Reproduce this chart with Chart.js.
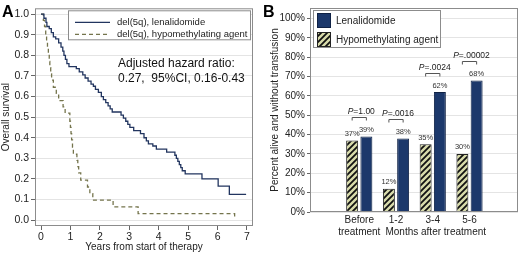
<!DOCTYPE html>
<html>
<head>
<meta charset="utf-8">
<script src="https://cdn.jsdelivr.net/npm/chart.js@4"></script>
<style>
  body { margin: 0; background: #fff; }
  canvas { position: absolute; top: 0; }
  #chartA { left: 0; }
  #chartB { left: 258px; }
</style>
</head>
<body>
<canvas id="chartA" width="258" height="253"></canvas>
<canvas id="chartB" width="262" height="253"></canvas>
<script>
// ---- panel A: Kaplan-Meier curves ----
const yearTicks = [0, 1, 2, 3, 4, 5, 6, 7];
const survTicks = ['0.0', '0.1', '0.2', '0.3', '0.4', '0.5', '0.6', '0.7', '0.8', '0.9', '1.0'];

const lenaTime = [0, 0.1, 0.17, 0.2, 0.28, 0.35, 0.42, 0.5, 0.6, 0.68, 0.74, 0.78, 0.83, 0.88, 0.95,
  1.2, 1.3, 1.42, 1.5, 1.6, 1.7, 1.78, 1.85, 1.95, 2.05, 2.12, 2.2, 2.28, 2.35, 2.42, 2.72, 2.8, 2.88,
  2.95, 3.02, 3.15, 3.38, 3.5, 3.58, 3.65, 3.8, 3.92, 4.27, 4.55, 4.6, 4.65, 4.7, 4.75, 4.8, 4.9,
  5.47, 6.02, 6.4, 6.97];
const lenaSurv = [1.0, 0.98, 0.96, 0.94, 0.93, 0.91, 0.89, 0.88, 0.86, 0.84, 0.82, 0.80, 0.78, 0.76, 0.745,
  0.735, 0.72, 0.705, 0.69, 0.675, 0.66, 0.65, 0.635, 0.62, 0.60, 0.585, 0.57, 0.555, 0.54, 0.525, 0.51, 0.495, 0.48,
  0.465, 0.45, 0.435, 0.42, 0.40, 0.385, 0.37, 0.36, 0.345, 0.33, 0.315, 0.30, 0.285, 0.27, 0.255, 0.24, 0.225,
  0.20, 0.165, 0.125, 0.125];

const hmaTime = [0, 0.08, 0.12, 0.16, 0.19, 0.22, 0.25, 0.28, 0.3, 0.33, 0.36, 0.42, 0.52, 0.6, 0.75,
  0.82, 0.98, 1.0, 1.02, 1.04, 1.07, 1.1, 1.22, 1.25, 1.28, 1.35, 1.58, 1.66, 1.76, 2.45, 3.3, 6.58, 6.58];
const hmaSurv = [1.0, 0.97, 0.94, 0.90, 0.87, 0.84, 0.81, 0.77, 0.74, 0.71, 0.68, 0.645, 0.615, 0.58, 0.55,
  0.52, 0.48, 0.45, 0.42, 0.39, 0.355, 0.32, 0.29, 0.26, 0.23, 0.194, 0.161, 0.129, 0.097, 0.065, 0.032, 0.032, 0.015];

const hazardText = ['Adjusted hazard ratio:', '0.27,  95%CI, 0.16-0.43'];

// ---- panel B: transfusion independence ----
const months = [['Before', 'treatment'], '1-2', '3-4', '5-6'];
const hmaPct = [37, 12, 35, 30];
const lenaPct = [39, 38, 62, 68];
const pValues = ['=1.00', '=.0016', '=.0024', '=.00002'];
const pctTicks = ['0%', '10%', '20%', '30%', '40%', '50%', '60%', '70%', '80%', '90%', '100%'];

const FONT = '"Liberation Sans", Arial, sans-serif';
Chart.defaults.font.family = FONT;
Chart.defaults.color = '#222';

function hatch() {
  const c = document.createElement('canvas');
  c.width = 6; c.height = 6;
  const g = c.getContext('2d');
  g.fillStyle = '#d8dbab';
  g.fillRect(0, 0, 6, 6);
  g.strokeStyle = '#111';
  g.lineWidth = 1.8;
  g.beginPath();
  g.moveTo(-1, 7); g.lineTo(7, -1);
  g.moveTo(-4, 4); g.lineTo(4, -4);
  g.moveTo(2, 10); g.lineTo(10, 2);
  g.stroke();
  return g.createPattern(c, 'repeat');
}
const hatchFill = hatch();

function frame(ctx, a) {
  ctx.strokeStyle = '#8c8c8c';
  ctx.lineWidth = 1;
  ctx.strokeRect(a.left + 0.5, a.top + 0.5, a.right - a.left - 1, a.bottom - a.top - 1);
}

const panelA = {
  id: 'panelA',
  afterDraw(chart) {
    const { ctx, chartArea: a } = chart;
    ctx.save();
    frame(ctx, a);
    ctx.fillStyle = '#000';
    ctx.textBaseline = 'alphabetic';
    ctx.font = 'bold 16px ' + FONT;
    ctx.fillText('A', 2, 17);

    const bx = a.left + 33, by = a.top + 2, bw = 182, bh = 29;
    ctx.fillStyle = '#fff';
    ctx.fillRect(bx, by, bw, bh);
    ctx.strokeStyle = '#8c8c8c';
    ctx.strokeRect(bx + 0.5, by + 0.5, bw, bh);
    chart.data.datasets.forEach((ds, i) => {
      const y = by + 12 + i * 12;
      ctx.beginPath();
      ctx.setLineDash(ds.borderDash || []);
      ctx.strokeStyle = ds.borderColor;
      ctx.lineWidth = ds.borderWidth;
      ctx.moveTo(bx + 7, y);
      ctx.lineTo(bx + 42, y);
      ctx.stroke();
      ctx.setLineDash([]);
      ctx.fillStyle = '#222';
      ctx.font = '9.5px ' + FONT;
      ctx.textBaseline = 'middle';
      ctx.fillText(ds.label, bx + 49, y);
    });

    ctx.font = '12px ' + FONT;
    ctx.fillStyle = '#111';
    ctx.fillText(hazardText[0], a.left + 83, 64);
    ctx.fillText(hazardText[1], a.left + 83, 79);
    ctx.restore();
  }
};

new Chart(document.getElementById('chartA'), {
  type: 'line',
  data: {
    datasets: [
      {
        label: 'del(5q), lenalidomide',
        data: lenaTime.map((t, i) => ({ x: t, y: lenaSurv[i] })),
        borderColor: '#22355f',
        borderWidth: 1.3,
        stepped: true,
        pointRadius: 0,
        fill: false
      },
      {
        label: 'del(5q), hypomethylating agent',
        data: hmaTime.map((t, i) => ({ x: t, y: hmaSurv[i] })),
        borderColor: '#74744c',
        borderDash: [4, 3],
        borderWidth: 1.3,
        stepped: true,
        pointRadius: 0,
        fill: false
      }
    ]
  },
  options: {
    responsive: false,
    animation: false,
    layout: { padding: { top: 1, right: 5, left: 0, bottom: 0 } },
    plugins: { legend: { display: false }, tooltip: { enabled: false } },
    scales: {
      x: {
        type: 'linear',
        min: -0.204,
        max: 7.204,
        afterBuildTicks: s => { s.ticks = yearTicks.map(v => ({ value: v })); },
        afterFit: s => { s.height = 27; },
        ticks: { font: { size: 10.5 }, color: '#222', padding: 1, maxRotation: 0, autoSkip: false },
        grid: { drawOnChartArea: false, tickLength: 4, tickColor: '#666' },
        border: { display: false },
        title: { display: true, text: 'Years from start of therapy', font: { size: 10 }, padding: 0, color: '#222' }
      },
      y: {
        min: -0.0282,
        max: 1.0282,
        afterBuildTicks: s => { s.ticks = survTicks.map(v => ({ value: parseFloat(v) })); },
        afterFit: s => { s.width = 35; },
        ticks: { font: { size: 10.5 }, color: '#222', padding: 2, callback: (v, i) => survTicks[i] },
        grid: { color: '#e4e4e4', tickLength: 4, tickColor: '#666' },
        border: { display: false },
        title: { display: true, text: 'Overall survival', font: { size: 10 }, padding: 0, color: '#222' }
      }
    }
  },
  plugins: [panelA]
});

const panelB = {
  id: 'panelB',
  afterDatasetsDraw(chart) {
    const { ctx, scales } = chart;
    const m0 = chart.getDatasetMeta(0), m1 = chart.getDatasetMeta(1);
    ctx.save();
    ctx.textAlign = 'center';
    ctx.textBaseline = 'alphabetic';
    ctx.fillStyle = '#333';
    ctx.font = '7.5px ' + FONT;
    [hmaPct, lenaPct].forEach((vals, d) => {
      const meta = chart.getDatasetMeta(d);
      meta.data.forEach((bar, i) => ctx.fillText(vals[i] + '%', bar.x, bar.y - 4.5));
    });

    pValues.forEach((p, i) => {
      const x1 = m0.data[i].x, x2 = m1.data[i].x;
      const level = Math.max(hmaPct[i], lenaPct[i]) + 10;
      const yy = Math.round(scales.y.getPixelForValue(level)) + 0.5;
      ctx.strokeStyle = '#555';
      ctx.lineWidth = 1;
      ctx.beginPath();
      ctx.moveTo(x1, yy + 3); ctx.lineTo(x1, yy); ctx.lineTo(x2, yy); ctx.lineTo(x2, yy + 3);
      ctx.stroke();
      ctx.font = 'italic 8.5px ' + FONT;
      const wP = ctx.measureText('P').width;
      ctx.font = '8.5px ' + FONT;
      const wR = ctx.measureText(p).width;
      const sx = (x1 + x2) / 2 + 2 - (wP + wR) / 2;
      ctx.textAlign = 'left';
      ctx.fillStyle = '#222';
      ctx.font = 'italic 8.5px ' + FONT;
      ctx.fillText('P', sx, yy - 4);
      ctx.font = '8.5px ' + FONT;
      ctx.fillText(p, sx + wP, yy - 4);
      ctx.textAlign = 'center';
    });
    ctx.restore();
  },
  afterDraw(chart) {
    const { ctx, chartArea: a, scales } = chart;
    ctx.save();
    frame(ctx, a);
    ctx.fillStyle = '#000';
    ctx.font = 'bold 16px ' + FONT;
    ctx.textBaseline = 'alphabetic';
    ctx.fillText('B', 5, 17);

    ctx.font = '10px ' + FONT;
    ctx.fillStyle = '#222';
    ctx.textAlign = 'center';
    ctx.textBaseline = 'middle';
    ctx.fillText('Months after treatment', scales.x.getPixelForValue(3) + 3, 232);

    const bx = a.left + 3, by = a.top + 2, bw = 127, bh = 37;
    ctx.fillStyle = '#fff';
    ctx.fillRect(bx, by, bw, bh);
    ctx.strokeStyle = '#8c8c8c';
    ctx.lineWidth = 1;
    ctx.strokeRect(bx + 0.5, by + 0.5, bw, bh);
    ctx.textAlign = 'left';
    [1, 0].forEach((d, row) => {
      const ds = chart.data.datasets[d];
      const sy = by + 3 + row * 19;
      ctx.fillStyle = ds.backgroundColor;
      ctx.fillRect(bx + 4, sy, 14, 15);
      ctx.strokeStyle = ds.borderColor;
      ctx.strokeRect(bx + 4.5, sy + 0.5, 13, 14);
      ctx.fillStyle = '#222';
      ctx.font = '10px ' + FONT;
      ctx.fillText(ds.label, bx + 23, sy + 8);
    });
    ctx.restore();
  }
};

new Chart(document.getElementById('chartB'), {
  type: 'bar',
  data: {
    datasets: [
      {
        label: 'Hypomethylating agent',
        data: hmaPct.map((v, i) => ({ x: i + 1, y: v })),
        backgroundColor: hatchFill,
        borderColor: '#222',
        borderWidth: 1
      },
      {
        label: 'Lenalidomide',
        data: lenaPct.map((v, i) => ({ x: i + 1, y: v })),
        backgroundColor: '#1c386b',
        borderColor: '#0f2144',
        borderWidth: 1
      }
    ]
  },
  options: {
    responsive: false,
    animation: false,
    categoryPercentage: 0.775,
    barPercentage: 0.84,
    layout: { padding: { top: 2, right: 2, left: 0, bottom: 0 } },
    plugins: { legend: { display: false }, tooltip: { enabled: false } },
    scales: {
      x: {
        type: 'linear',
        min: 0.367,
        max: 4.612,
        afterBuildTicks: s => { s.ticks = months.map((m, i) => ({ value: i + 1 })); },
        afterFit: s => { s.height = 41; },
        ticks: { font: { size: 10 }, color: '#222', padding: 2, maxRotation: 0, autoSkip: false,
          callback: (v, i) => months[i] },
        grid: { display: false, drawTicks: false },
        border: { display: false }
      },
      y: {
        min: 0,
        max: 105.5,
        afterBuildTicks: s => { s.ticks = pctTicks.map(v => ({ value: parseFloat(v) })); },
        afterFit: s => { s.width = 52; },
        ticks: { font: { size: 10 }, color: '#222', padding: 2, callback: (v, i) => pctTicks[i] },
        grid: { color: '#e4e4e4', tickLength: 3, tickColor: '#666' },
        border: { display: false },
        title: { display: true, text: 'Percent alive and without transfusion', font: { size: 10 },
          padding: { top: 11, bottom: 0 }, color: '#222' }
      }
    }
  },
  plugins: [panelB]
});
</script>
</body>
</html>
